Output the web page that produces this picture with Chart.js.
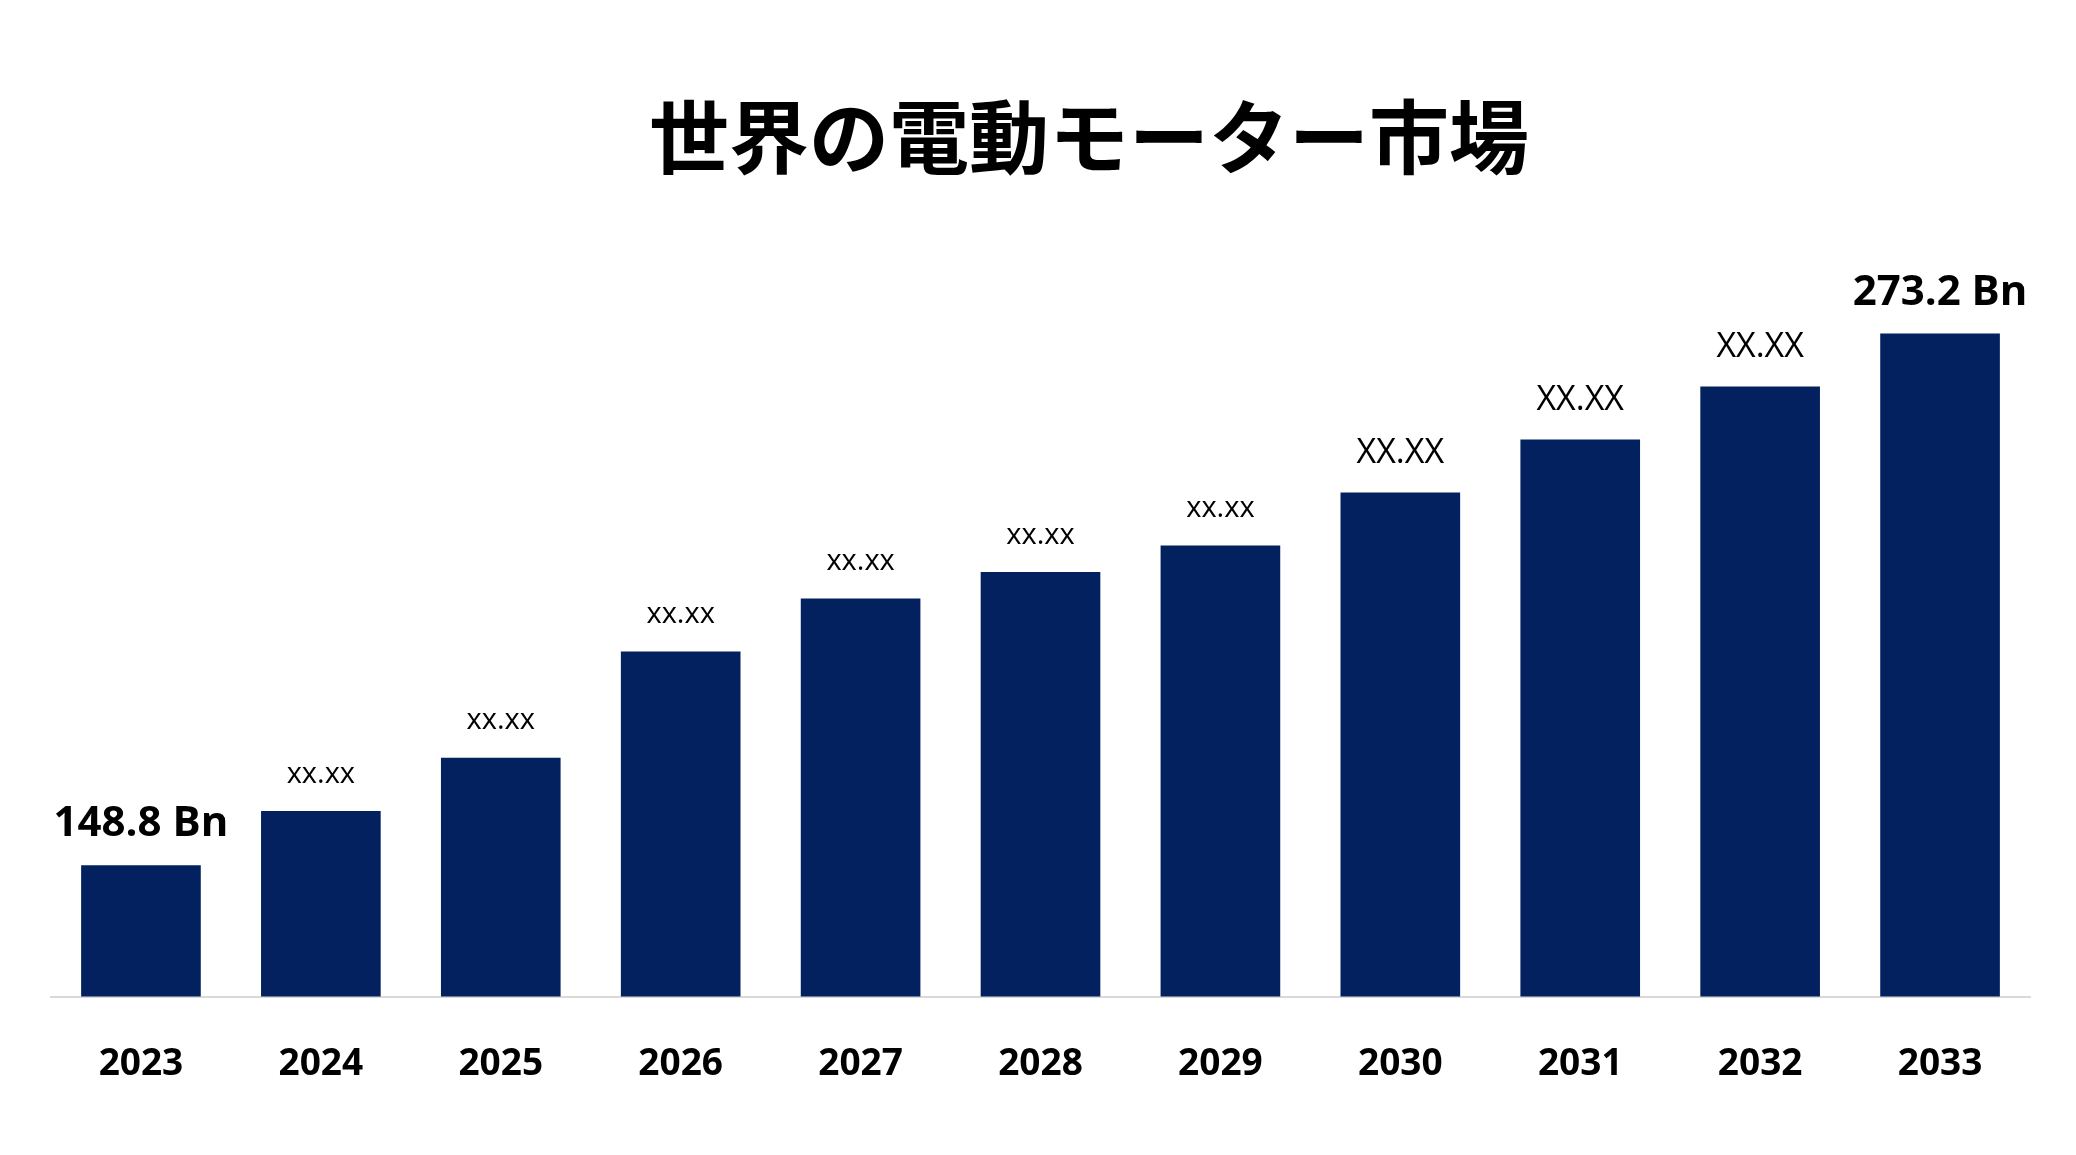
<!DOCTYPE html>
<html><head><meta charset="utf-8">
<script src="https://cdn.jsdelivr.net/npm/chart.js@4"></script>
<style>html,body{margin:0;padding:0;background:#fff}#wrap{width:2076px;height:1155px}</style>
</head><body><div id="wrap"><canvas id="c"></canvas></div>
<script>
const categories=["2023","2024","2025","2026","2027","2028","2029","2030","2031","2032","2033"];
const values=[148.8,161.5,174,198.8,211.2,217.4,223.6,236,248.4,260.8,273.2];
const labels=["148.8 Bn","xx.xx","xx.xx","xx.xx","xx.xx","xx.xx","xx.xx","XX.XX","XX.XX","XX.XX","273.2 Bn"];
const titleText="世界の電動モーター市場";
const labelPlugin={id:"lbl",afterDatasetsDraw(ch){const ctx=ch.ctx;const meta=ch.getDatasetMeta(0);
ctx.save();ctx.textAlign="center";ctx.textBaseline="bottom";ctx.fillStyle="#000";
meta.data.forEach((b,i)=>{const t=labels[i];let f;
if(t.includes("Bn"))f="bold 42px 'Open Sans'";else if(t==="XX.XX")f="34px 'Open Sans'";else f="29px 'Open Sans'";
ctx.font=f;ctx.fillText(t,b.x,b.y-(t.includes("Bn")?20:22));});
ctx.font="bold 80px 'Noto Sans CJK JP'";ctx.textBaseline="middle";ctx.fillText(titleText,1089,137);
ctx.restore();}};
new Chart(document.getElementById("c"),{type:"bar",
data:{labels:categories,datasets:[{data:values,backgroundColor:"#03215e",barPercentage:0.665,categoryPercentage:1}]},
options:{responsive:true,maintainAspectRatio:false,animation:false,
layout:{padding:{left:51,right:46,top:219,bottom:30}},
plugins:{legend:{display:false},tooltip:{enabled:false}},
scales:{x:{grid:{display:false},border:{color:"#d9d9d9",width:2},ticks:{color:"#000",padding:38,font:{family:"'Open Sans'",size:37,weight:"bold"}}},
y:{display:false,min:118.1,max:300}}},
plugins:[labelPlugin]});
</script></body></html>
